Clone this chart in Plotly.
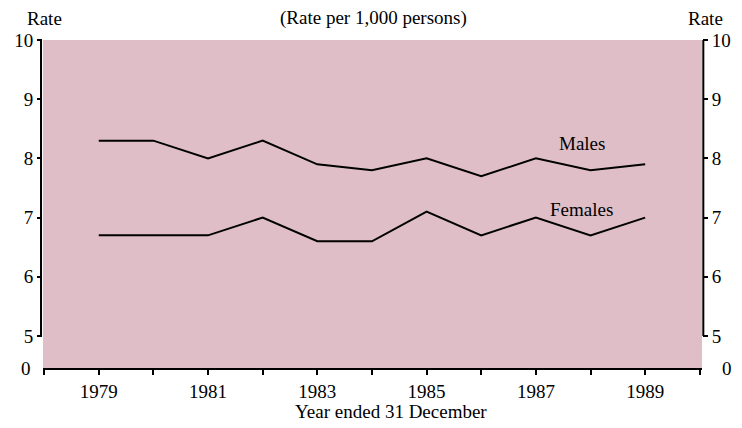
import plotly.graph_objects as go

years = [1979, 1980, 1981, 1982, 1983, 1984, 1985, 1986, 1987, 1988, 1989]
males = [8.3, 8.3, 8.0, 8.3, 7.9, 7.8, 8.0, 7.7, 8.0, 7.8, 7.9]
females = [6.7, 6.7, 6.7, 7.0, 6.6, 6.6, 7.1, 6.7, 7.0, 6.7, 7.0]
x_ticks = list(range(1978, 1991))
x_labels = [str(y) if y % 2 == 1 and 1979 <= y <= 1989 else "" for y in x_ticks]
y_ticks = [5, 6, 7, 8, 9, 10]
y_labels = ["5", "6", "7", "8", "9", "10"]

Y_BREAK = 4.459  # display position of the "0" on the broken axis
FONT = "Liberation Serif"
PINK = "rgb(223,190,199)"
FS = 19

fig = go.Figure()
fig.add_trace(go.Scatter(x=years, y=males, mode="lines", line=dict(color="black", width=2),
                         name="Males", showlegend=False))
fig.add_trace(go.Scatter(x=years, y=females, mode="lines", line=dict(color="black", width=2),
                         name="Females", showlegend=False))
fig.add_trace(go.Scatter(x=years, y=males, mode="lines", line=dict(width=0), yaxis="y2",
                         showlegend=False, hoverinfo="skip", opacity=0))

common_y = dict(range=[Y_BREAK, 10], tickvals=y_ticks, ticktext=y_labels, ticks="outside",
                ticklen=5, tickwidth=2, tickcolor="black", showgrid=False, zeroline=False,
                showline=False, automargin=False,
                tickfont=dict(family=FONT, size=FS, color="black"), fixedrange=True)

fig.update_layout(
    width=742, height=428,
    margin=dict(l=43, r=40, t=40, b=60),
    paper_bgcolor="white", plot_bgcolor=PINK,
    font=dict(family=FONT, size=FS, color="black"),
    xaxis=dict(range=[1977.98, 1990.04], tickvals=x_ticks, ticktext=x_labels, ticks="outside",
               ticklen=5, tickwidth=2, tickcolor="black", showline=True, linecolor="black",
               linewidth=2, showgrid=False, zeroline=False, automargin=False,
               tickfont=dict(family=FONT, size=FS, color="black")),
    yaxis=dict(**common_y, side="left"),
    yaxis2=dict(**common_y, side="right", overlaying="y"),
    shapes=[
        dict(type="line", xref="paper", yref="y", x0=-0.003, x1=-0.003, y0=5, y1=10,
             line=dict(color="black", width=2)),
        dict(type="line", xref="paper", yref="y", x0=1.002, x1=1.002, y0=5, y1=10,
             line=dict(color="black", width=2)),
    ],
    annotations=[
        dict(text="Rate", xref="paper", yref="paper", x=0.002, y=1.067, showarrow=False,
             xanchor="center", yanchor="middle", font=dict(size=FS)),
        dict(text="Rate", xref="paper", yref="paper", x=1.005, y=1.067, showarrow=False,
             xanchor="center", yanchor="middle", font=dict(size=FS)),
        dict(text="(Rate per 1,000 persons)", xref="paper", yref="paper", x=0.502, y=1.067,
             showarrow=False, xanchor="center", yanchor="middle", font=dict(size=FS)),
        dict(text="Year ended 31 December", xref="paper", yref="paper", x=0.528, y=-0.134,
             showarrow=False, xanchor="center", yanchor="middle", font=dict(size=FS)),
        dict(text="0", xref="paper", yref="y", x=0, y=Y_BREAK, showarrow=False,
             xanchor="right", xshift=-10, font=dict(size=FS)),
        dict(text="0", xref="paper", yref="y", x=1, y=Y_BREAK, showarrow=False,
             xanchor="left", xshift=18, font=dict(size=FS)),
        dict(text="Males", x=1987.84, y=8.26, showarrow=False, font=dict(size=FS)),
        dict(text="Females", x=1987.84, y=7.13, showarrow=False, font=dict(size=FS)),
    ],
)

fig.write_html("out.html", config={"displayModeBar": False},
               post_script="document.body.style.margin='0';")
